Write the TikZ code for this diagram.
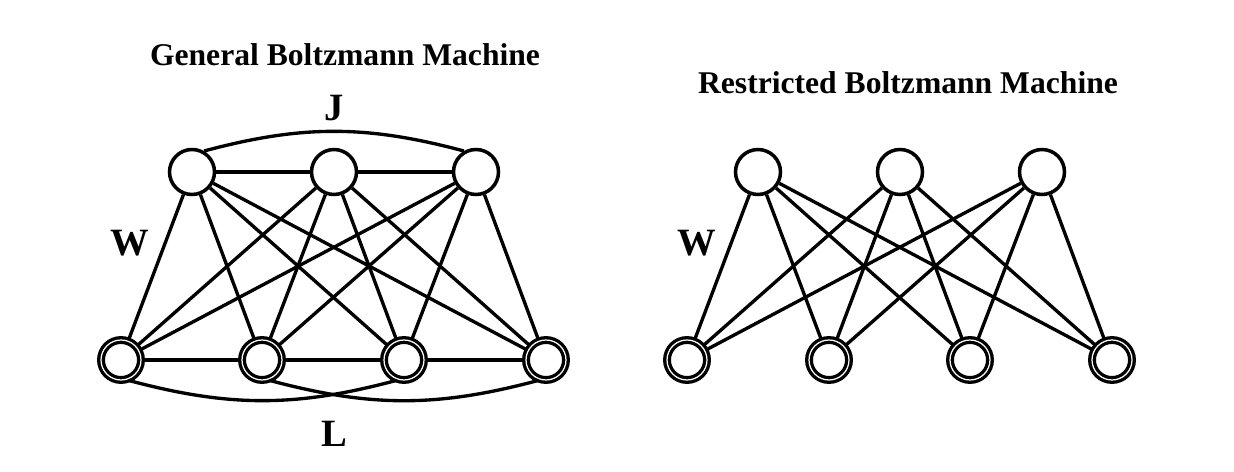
\documentclass[tikz,border=0pt]{standalone}
\usepackage{fontspec}
\setmainfont{Liberation Serif}
\usetikzlibrary{positioning}
\tikzset{
  hidnode/.style={
    circle, draw, line width=2pt,
    minimum size=0.9cm, inner sep=0pt
  },
  visnode/.style={
    circle, draw, double, line width=1.9pt,
    double distance=0.7pt, minimum size=0.8cm, inner sep=0pt
  },
  wline/.style={line width=1.9pt},
  titletext/.style={font=\fontsize{18}{21}\selectfont\bfseries},
  labeltext/.style={font=\fontsize{22}{24}\selectfont\bfseries},
}

\begin{document}
\begin{tikzpicture}[x=0.02cm, y=-0.02cm]
  \useasboundingbox (0,0) rectangle (1234,472);
  % titles
  \node[titletext](gtitle) at (345,55){General Boltzmann Machine};
  \node[titletext](rtitle) at (908,83){Restricted Boltzmann Machine};
  % general machine
  \foreach \i/\x in {1/192, 2/334, 3/476}
    \node[hidnode](gh\i) at (\x,172){};
  \foreach \i/\x in {1/121, 2/262, 3/404, 4/546}
    \node[visnode](gv\i) at (\x,360){};
  \foreach \i in {1,2,3}
    \foreach \j in {1,2,3,4}
      \draw[wline](gh\i)--(gv\j);
  \draw[wline](gh1)--(gh2);
  \draw[wline](gh2)--(gh3);
  \draw[wline](gv1)--(gv2);
  \draw[wline](gv2)--(gv3);
  \draw[wline](gv3)--(gv4);
  \draw[wline](gh1.60) to[out=15, in=165] (gh3.120);
  \draw[wline](gv1.-70) to[out=-15, in=-165] (gv3.-110);
  \draw[wline](gv2.-70) to[out=-15, in=-165] (gv4.-110);
  \node[labeltext](jlab) at (334,108){J};
  \node[labeltext](llab) at (334,434){L};
  \node[labeltext](gwlab) at (130,243){W};
  % restricted machine
  \foreach \i/\x in {1/758, 2/900, 3/1042}
    \node[hidnode](rh\i) at (\x,172){};
  \foreach \i/\x in {1/687, 2/829, 3/970, 4/1112}
    \node[visnode](rv\i) at (\x,360){};
  \foreach \i in {1,2,3}
    \foreach \j in {1,2,3,4}
      \draw[wline](rh\i)--(rv\j);
  \node[labeltext](rwlab) at (697,243){W};
\end{tikzpicture}
\end{document}
